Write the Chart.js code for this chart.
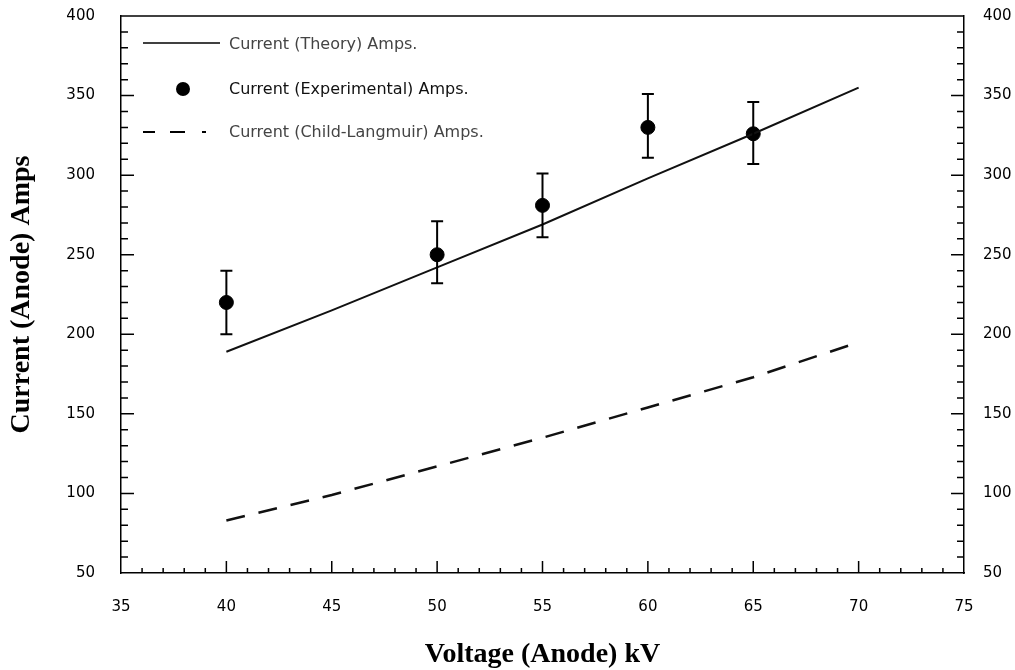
<!DOCTYPE html>
<html>
<head>
  <meta charset="UTF-8" />
  <title>Current vs Voltage</title>
  <script src="https://cdn.jsdelivr.net/npm/chart.js"></script>
  <style>
    html, body { margin: 0; padding: 0; background: #fff; }
    #wrap { width: 1015px; height: 670px; }
  </style>
</head>
<body>
<div id="wrap"><canvas id="grafico"></canvas></div>

<script>
  // dati
  const voltage = [40, 45, 50, 55, 60, 65, 70];
  const theory = [189, 215, 242, 269, 298, 326, 355];
  const childLangmuir = [83, 99, 117, 135, 154, 173, 195];

  const expVoltage = [40, 50, 55, 60, 65];
  const expCurrent = [220, 250, 281, 330, 326];
  const expLow = [200, 232, 261, 311, 307];
  const expHigh = [240, 271, 301, 351, 346];

  const xTicks = [35, 40, 45, 50, 55, 60, 65, 70, 75];
  const yTicks = [50, 100, 150, 200, 250, 300, 350, 400];

  const legendLabels = ['Current (Theory) Amps.', 'Current (Experimental) Amps.', 'Current (Child-Langmuir) Amps.'];

  const tickFont = { family: 'DejaVu Sans', size: 15 };
  const titleFont = { family: 'Liberation Serif', size: 28, weight: 'bold', lineHeight: 1 };

  // tacche interne, cornice superiore, barre d'errore e legenda
  const extras = {
    id: 'extras',
    afterDatasetsDraw(chart) {
      const ctx = chart.ctx;
      const a = chart.chartArea;
      const x = chart.scales.x, y = chart.scales.y;
      ctx.save();
      ctx.strokeStyle = '#000';
      ctx.lineWidth = 1.5;

      // cornice superiore
      ctx.beginPath();
      ctx.moveTo(a.left, a.top);
      ctx.lineTo(a.right, a.top);
      ctx.stroke();

      // tacche asse x (verso l'interno)
      ctx.beginPath();
      for (let v = xTicks[0] + 1; v < xTicks[xTicks.length - 1]; v++) {
        const px = x.getPixelForValue(v);
        const len = v % 5 === 0 ? 12 : 5;
        ctx.moveTo(px, a.bottom);
        ctx.lineTo(px, a.bottom - len);
      }
      // tacche assi y, sinistra e destra
      for (let v = yTicks[0] + 10; v < yTicks[yTicks.length - 1]; v += 10) {
        const py = y.getPixelForValue(v);
        const len = v % 50 === 0 ? 13 : 7;
        ctx.moveTo(a.left, py);
        ctx.lineTo(a.left + len, py);
        ctx.moveTo(a.right, py);
        ctx.lineTo(a.right - len, py);
      }
      ctx.stroke();

      // barre d'errore
      ctx.lineWidth = 2;
      ctx.beginPath();
      expVoltage.forEach((v, i) => {
        const px = x.getPixelForValue(v);
        const lo = y.getPixelForValue(expLow[i]);
        const hi = y.getPixelForValue(expHigh[i]);
        ctx.moveTo(px, lo); ctx.lineTo(px, hi);
        ctx.moveTo(px - 6, lo); ctx.lineTo(px + 6, lo);
        ctx.moveTo(px - 6, hi); ctx.lineTo(px + 6, hi);
      });
      ctx.stroke();

      // legenda
      ctx.font = '16px "DejaVu Sans"';
      ctx.textBaseline = 'middle';
      ctx.textAlign = 'left';

      ctx.lineWidth = 1.5;
      ctx.beginPath();
      ctx.moveTo(143, 43); ctx.lineTo(220, 43);
      ctx.stroke();
      ctx.fillStyle = '#444';
      ctx.fillText(legendLabels[0], 229, 45);

      ctx.fillStyle = '#000';
      ctx.beginPath();
      ctx.arc(183, 89, 7, 0, Math.PI * 2);
      ctx.fill();
      ctx.fillStyle = '#111';
      ctx.fillText(legendLabels[1], 229, 90);

      ctx.lineWidth = 2;
      ctx.beginPath();
      ctx.moveTo(143, 132); ctx.lineTo(155, 132);
      ctx.moveTo(170, 132); ctx.lineTo(185, 132);
      ctx.moveTo(202, 132); ctx.lineTo(206, 132);
      ctx.stroke();
      ctx.fillStyle = '#444';
      ctx.fillText(legendLabels[2], 229, 133);

      ctx.restore();
    }
  };

  const noPad = s => { s.paddingTop = 0; s.paddingBottom = 0; s.paddingLeft = 0; s.paddingRight = 0; };

  new Chart(document.getElementById('grafico'), {
    type: 'scatter',
    data: {
      datasets: [
        {
          label: legendLabels[0],
          data: voltage.map((v, i) => ({ x: v, y: theory[i] })),
          showLine: true,
          borderColor: '#111',
          borderWidth: 2,
          pointRadius: 0,
          tension: 0
        },
        {
          label: legendLabels[1],
          data: expVoltage.map((v, i) => ({ x: v, y: expCurrent[i] })),
          showLine: false,
          pointRadius: 7,
          pointBackgroundColor: '#000',
          pointBorderColor: '#000'
        },
        {
          label: legendLabels[2],
          data: voltage.map((v, i) => ({ x: v, y: childLangmuir[i] })),
          showLine: true,
          borderColor: '#111',
          borderWidth: 2.5,
          borderDash: [19, 14],
          pointRadius: 0,
          tension: 0
        }
      ]
    },
    options: {
      responsive: true,
      maintainAspectRatio: false,
      animation: false,
      layout: { padding: { top: 16, left: 0, right: 0, bottom: 0 } },
      plugins: {
        legend: { display: false },
        tooltip: { enabled: false }
      },
      scales: {
        x: {
          type: 'linear',
          position: 'bottom',
          min: 35, max: 75,
          afterBuildTicks: s => { s.ticks = xTicks.map(v => ({ value: v })); },
          ticks: { font: tickFont, color: '#000', padding: 25, autoSkip: false, maxRotation: 0 },
          grid: { display: false, drawTicks: false },
          border: { display: true, color: '#000', width: 1.5 },
          title: { display: true, text: 'Voltage (Anode) kV', font: titleFont, color: '#000', padding: { top: 0, bottom: 1 } },
          afterFit: s => { s.height = 97; noPad(s); }
        },
        y: {
          type: 'linear',
          position: 'left',
          min: 50, max: 400,
          afterBuildTicks: s => { s.ticks = yTicks.map(v => ({ value: v })); },
          ticks: { font: tickFont, color: '#000', padding: 26, autoSkip: false },
          grid: { display: false, drawTicks: false },
          border: { display: true, color: '#000', width: 1.5 },
          title: { display: true, text: 'Current (Anode) Amps', font: titleFont, color: '#000', padding: { top: 8, bottom: 8 } },
          afterFit: s => { s.width = 121; noPad(s); }
        },
        y2: {
          type: 'linear',
          position: 'right',
          min: 50, max: 400,
          afterBuildTicks: s => { s.ticks = yTicks.map(v => ({ value: v })); },
          ticks: { font: tickFont, color: '#000', padding: 19, autoSkip: false },
          grid: { display: false, drawTicks: false },
          border: { display: true, color: '#000', width: 1.5 },
          afterFit: s => { s.width = 51; noPad(s); }
        }
      }
    },
    plugins: [extras]
  });
</script>
</body>
</html>
